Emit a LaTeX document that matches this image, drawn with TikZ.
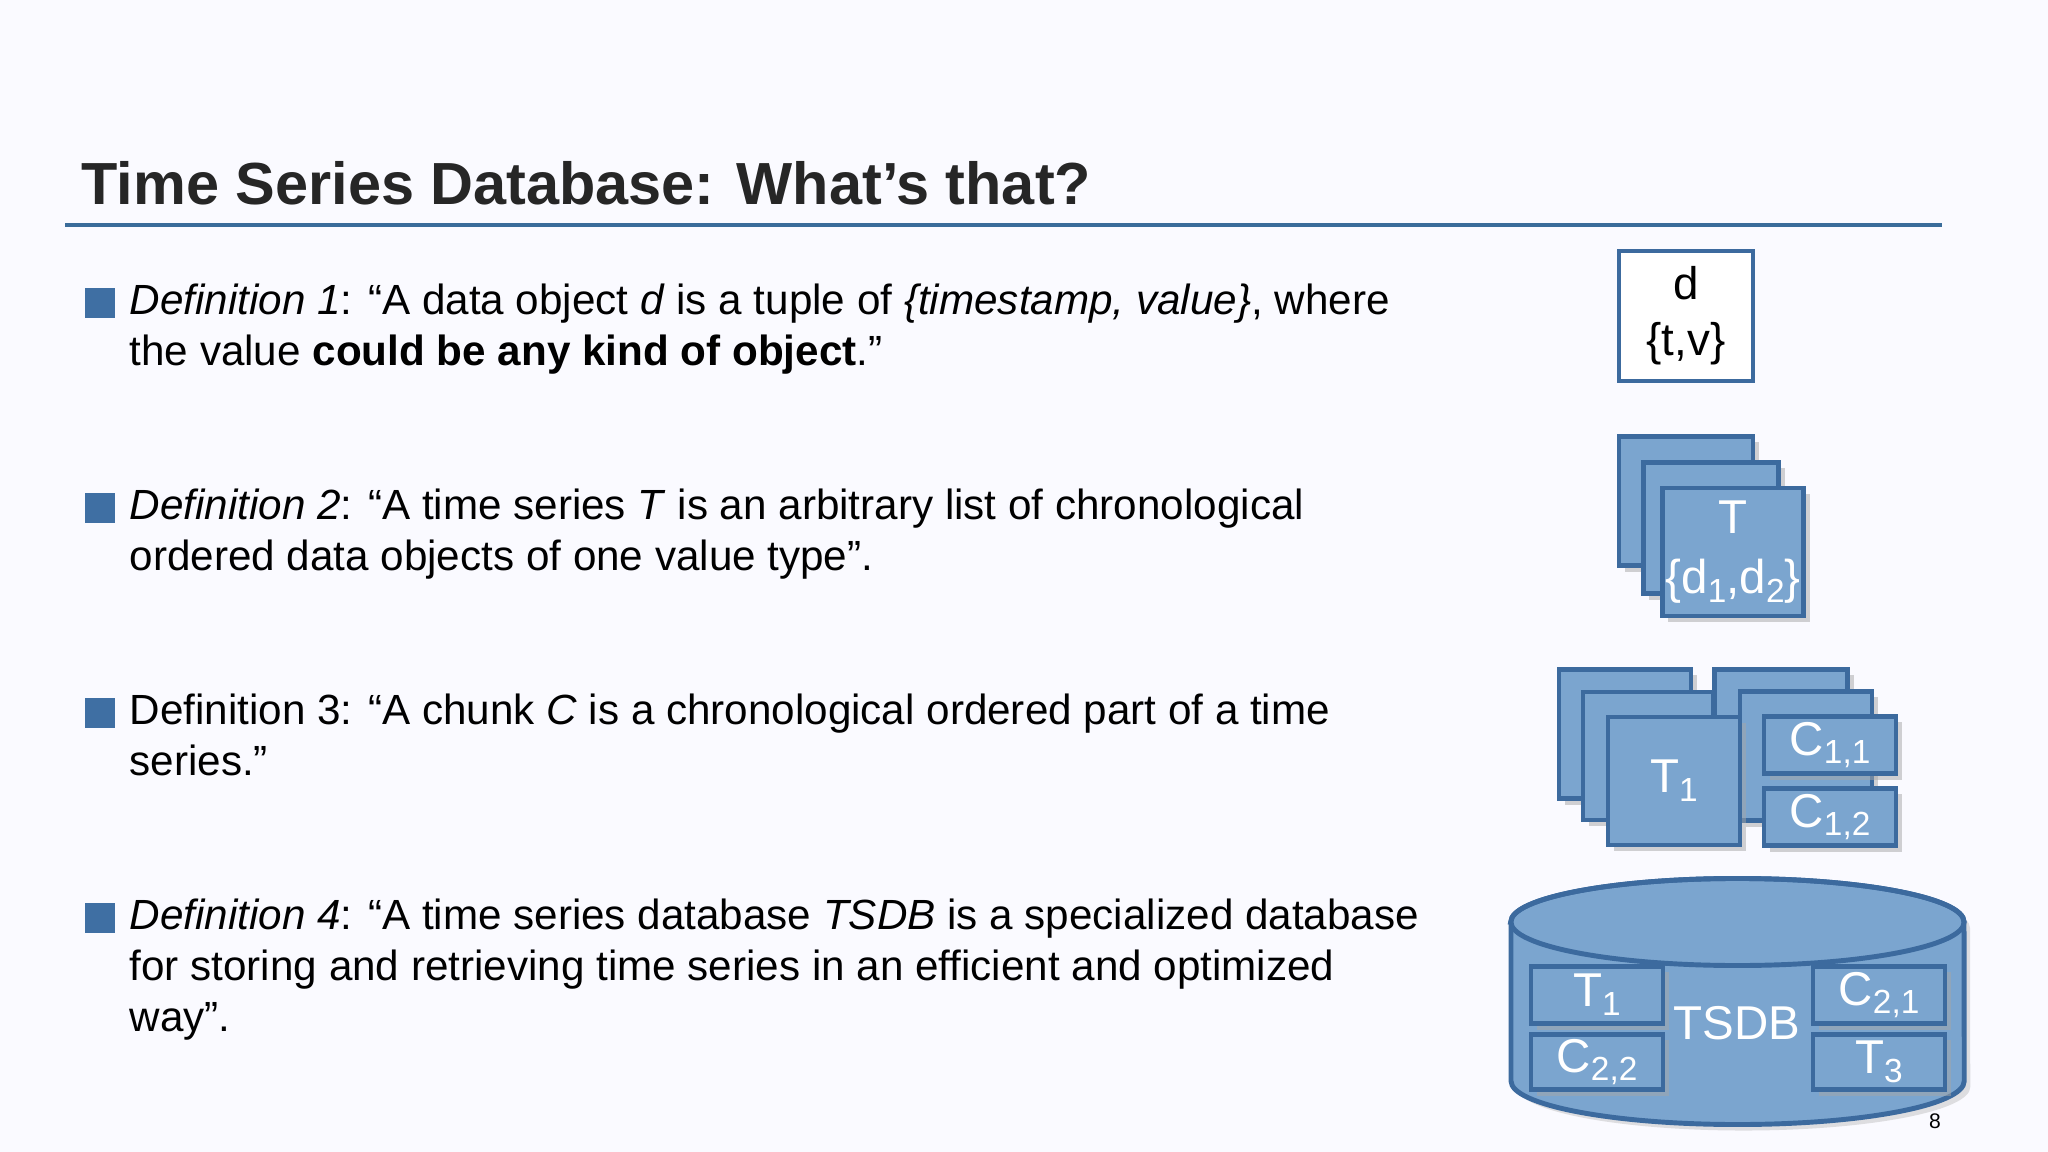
\documentclass[tikz,border=0pt]{standalone}
\usepackage{fontspec}
\setmainfont{Liberation Sans}
\usetikzlibrary{shadows}
\definecolor{boxfill}{HTML}{7BA5CF}
\definecolor{boxline}{HTML}{3C6A9E}
\definecolor{rulec}{HTML}{3A6C9A}
\definecolor{bulc}{HTML}{3F6FA3}
\newcommand{\lsub}[1]{\raisebox{-0.35ex}{\fontsize{9.5pt}{10pt}\selectfont #1}}
\tikzset{
  bx/.style={draw=boxline, fill=boxfill, line width=1.2pt, text=white, inner sep=0pt, align=center,
    font=\fontsize{13.5pt}{17pt}\selectfont, drop shadow={shadow xshift=0.06cm, shadow yshift=-0.06cm, fill=black!35, opacity=0.5}},
  wbx/.style={draw=boxline, fill=white, line width=1.2pt, inner sep=0pt, align=center, font=\fontsize{13pt}{16pt}\selectfont},
  body/.style={anchor=north west, align=left, inner sep=0pt, font=\fontsize{12pt}{14.5pt}\selectfont},
  bul/.style={fill=bulc, minimum size=0.29cm, inner sep=0pt},
}
\begin{document}
\begin{tikzpicture}[x=0.01cm,y=-0.01cm]
\useasboundingbox (0,0) rectangle (2048,1152);
\fill[white!98!blue] (0,0) rectangle (2048,1152);
\node[anchor=west, inner sep=0pt, font=\fontsize{16.9pt}{19pt}\selectfont\bfseries, text=black!85] (title) at (81,183) {Time Series Database: What’s that?};
\draw[rulec, line width=1.3pt] (65,225) -- (1942,225);

\node[bul] (b1) at (100,303) {};
\node[body] (t1) at (129,283) {\textit{Definition 1}: “A data object \textit{d} is a tuple of \textit{\{timestamp, value\}}, where\\the value \textbf{could be any kind of object}.”};
\node[bul] (b2) at (100,508) {};
\node[body] (t2) at (129,488) {\textit{Definition 2}: “A time series \textit{T} is an arbitrary list of chronological\\ordered data objects of one value type”.};
\node[bul] (b3) at (100,713) {};
\node[body] (t3) at (129,693) {Definition 3: “A chunk \textit{C} is a chronological ordered part of a time\\series.”};
\node[bul] (b4) at (100,918) {};
\node[body] (t4) at (129,898) {\textit{Definition 4}: “A time series database \textit{TSDB} is a specialized database\\for storing and retrieving time series in an efficient and optimized\\way”.};

% d box
\node[wbx, minimum width=1.34cm, minimum height=1.30cm] (d) at (1686,316) {d\\\{t,v\}};

% T stack
\node[bx, minimum width=1.34cm, minimum height=1.29cm] (ta) at (1686,501) {};
\node[bx, minimum width=1.35cm, minimum height=1.31cm] (tb) at (1711,528) {};
\node[bx, minimum width=1.41cm, minimum height=1.28cm] (tc) at (1733,552) {T\\\{d\lsub{1},d\lsub{2}\}};

% chunk group
\node[bx, minimum width=1.32cm, minimum height=1.29cm] (la) at (1625,734) {};
\node[bx, minimum width=1.30cm, minimum height=1.28cm] (lb) at (1648,756) {};
\node[bx, minimum width=1.33cm, minimum height=1.29cm] (ra) at (1781,734) {};
\node[bx, minimum width=1.32cm, minimum height=1.29cm] (rb) at (1806,756) {};
\node[bx, minimum width=1.32cm, minimum height=1.28cm] (lc) at (1674,781) {T\lsub{1}};
\node[bx, minimum width=1.32cm, minimum height=0.57cm] (c11) at (1830,745) {C\lsub{1,1}};
\node[bx, minimum width=1.32cm, minimum height=0.57cm] (c12) at (1830,817) {C\lsub{1,2}};

% cylinder
\path[draw=boxline, fill=boxfill, line width=1.4pt, drop shadow={shadow xshift=0.06cm, shadow yshift=-0.06cm, fill=black!30, opacity=0.4}]
  (1511,922) -- (1511,1081) arc[start angle=180, end angle=360, x radius=2.265cm, y radius=0.435cm]
  -- (1964,922) arc[start angle=0, end angle=180, x radius=2.265cm, y radius=0.435cm] -- cycle;
\draw[boxline, line width=1.4pt] (1737.5,922) ellipse [x radius=2.265cm, y radius=0.435cm];
\node[text=white, font=\fontsize{13.5pt}{16pt}\selectfont] (tsdb) at (1737,1023) {TSDB};
\node[bx, minimum width=1.32cm, minimum height=0.57cm] (k1) at (1597,995) {T\lsub{1}};
\node[bx, minimum width=1.32cm, minimum height=0.55cm] (k2) at (1597,1062) {C\lsub{2,2}};
\node[bx, minimum width=1.32cm, minimum height=0.57cm] (k3) at (1879,995) {C\lsub{2,1}};
\node[bx, minimum width=1.32cm, minimum height=0.55cm] (k4) at (1879,1062) {T\lsub{3}};
\node[font=\fontsize{6pt}{7pt}\selectfont] (pg) at (1935,1121) {8};
\end{tikzpicture}
\end{document}
